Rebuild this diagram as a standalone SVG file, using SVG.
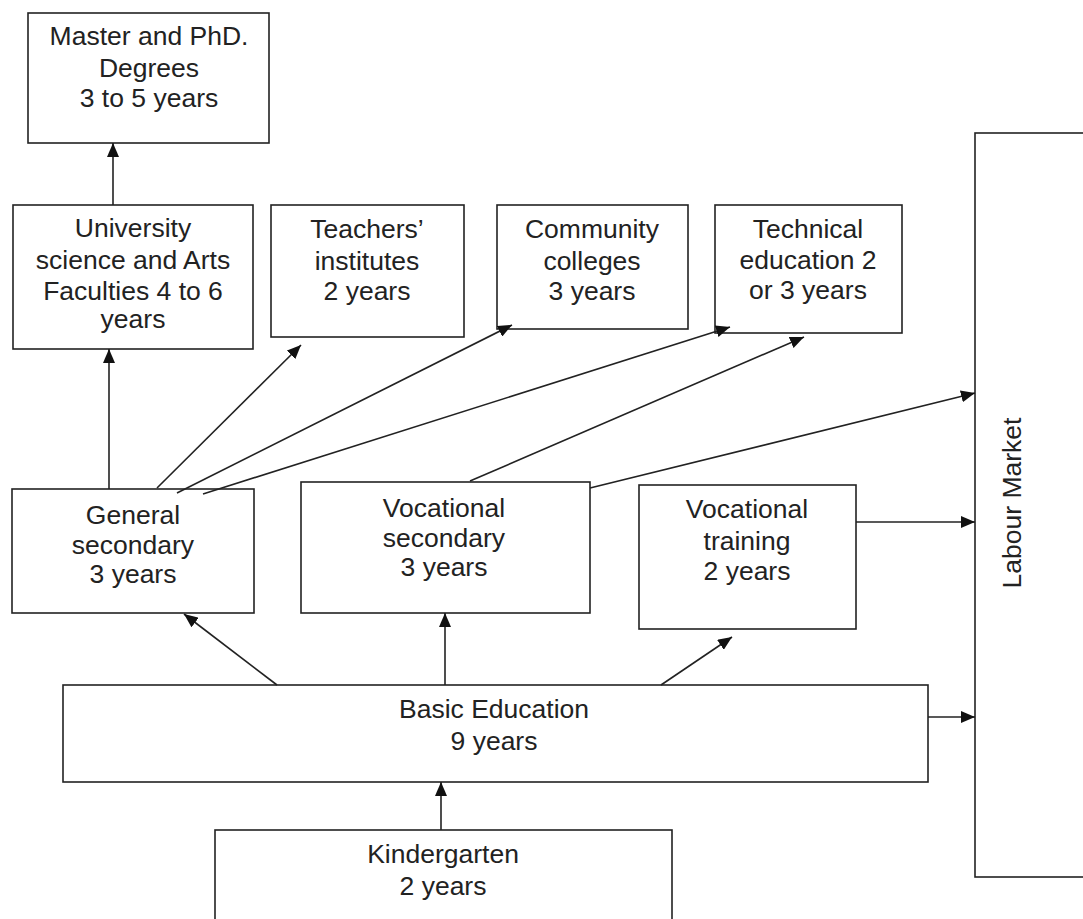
<svg xmlns="http://www.w3.org/2000/svg" width="1083" height="919" viewBox="0 0 1083 919">
<style>
.box{fill:#fff;stroke:#222;stroke-width:1.6}
.lbl{font-family:"Liberation Sans",Arial,sans-serif;font-size:26.5px;fill:#222;text-anchor:middle}
.con{stroke:#222;stroke-width:1.6;fill:none;marker-end:url(#ah)}
</style>
<defs>
<marker id="ah" markerUnits="userSpaceOnUse" markerWidth="14" markerHeight="12" refX="14" refY="6" orient="auto">
<path d="M0,0 L14,6 L0,12 z" fill="#111"/>
</marker>
</defs>
<rect width="1083" height="919" fill="#fff"/>
<g id="master"><rect class="box" x="28" y="13" width="241" height="130"/>
<text class="lbl" x="149" y="45">Master and PhD.</text><text class="lbl" x="149" y="77">Degrees</text><text class="lbl" x="149" y="107">3 to 5 years</text></g>
<g id="university"><rect class="box" x="13" y="205" width="240" height="144"/>
<text class="lbl" x="133" y="237">University</text><text class="lbl" x="133" y="269">science and Arts</text><text class="lbl" x="133" y="300">Faculties 4 to 6</text><text class="lbl" x="133" y="328">years</text></g>
<g id="teachers"><rect class="box" x="271" y="205" width="193" height="132"/>
<text class="lbl" x="367" y="238">Teachers’</text><text class="lbl" x="367" y="270">institutes</text><text class="lbl" x="367" y="300">2 years</text></g>
<g id="community"><rect class="box" x="497" y="205" width="191" height="124"/>
<text class="lbl" x="592" y="238">Community</text><text class="lbl" x="592" y="270">colleges</text><text class="lbl" x="592" y="300">3 years</text></g>
<g id="technical"><rect class="box" x="715" y="205" width="187" height="128"/>
<text class="lbl" x="808" y="238">Technical</text><text class="lbl" x="808" y="269">education 2</text><text class="lbl" x="808" y="299">or 3 years</text></g>
<g id="labour"><rect class="box" x="975" y="133" width="130" height="744"/>
<text class="lbl" transform="translate(1021,503) rotate(-90)" x="0" y="0">Labour Market</text></g>
<g id="general"><rect class="box" x="12" y="489" width="242" height="124"/>
<text class="lbl" x="133" y="524">General</text><text class="lbl" x="133" y="554">secondary</text><text class="lbl" x="133" y="583">3 years</text></g>
<g id="vocsec"><rect class="box" x="301" y="482" width="289" height="131"/>
<text class="lbl" x="444" y="517">Vocational</text><text class="lbl" x="444" y="547">secondary</text><text class="lbl" x="444" y="576">3 years</text></g>
<g id="voctrain"><rect class="box" x="639" y="485" width="217" height="144"/>
<text class="lbl" x="747" y="518">Vocational</text><text class="lbl" x="747" y="550">training</text><text class="lbl" x="747" y="580">2 years</text></g>
<g id="basic"><rect class="box" x="63" y="685" width="865" height="97"/>
<text class="lbl" x="494" y="718">Basic Education</text><text class="lbl" x="494" y="750">9 years</text></g>
<g id="kindergarten"><rect class="box" x="215" y="830" width="457" height="120"/>
<text class="lbl" x="443" y="863">Kindergarten</text><text class="lbl" x="443" y="895">2 years</text></g>
<g id="connectors">
<line class="con" x1="113" y1="205" x2="113" y2="143"/>
<line class="con" x1="109" y1="489" x2="109" y2="349"/>
<line class="con" x1="157" y1="488" x2="301" y2="345"/>
<line class="con" x1="177" y1="493" x2="512" y2="325"/>
<line class="con" x1="203" y1="494" x2="730" y2="327"/>
<line class="con" x1="470" y1="481" x2="804" y2="337"/>
<line class="con" x1="590" y1="488" x2="975" y2="393"/>
<line class="con" x1="856" y1="522" x2="975" y2="522"/>
<line class="con" x1="928" y1="717" x2="975" y2="717"/>
<line class="con" x1="277" y1="685" x2="184" y2="614"/>
<line class="con" x1="445" y1="685" x2="445" y2="613"/>
<line class="con" x1="661" y1="685" x2="732" y2="637"/>
<line class="con" x1="441" y1="830" x2="441" y2="782"/>
</g>
</svg>
